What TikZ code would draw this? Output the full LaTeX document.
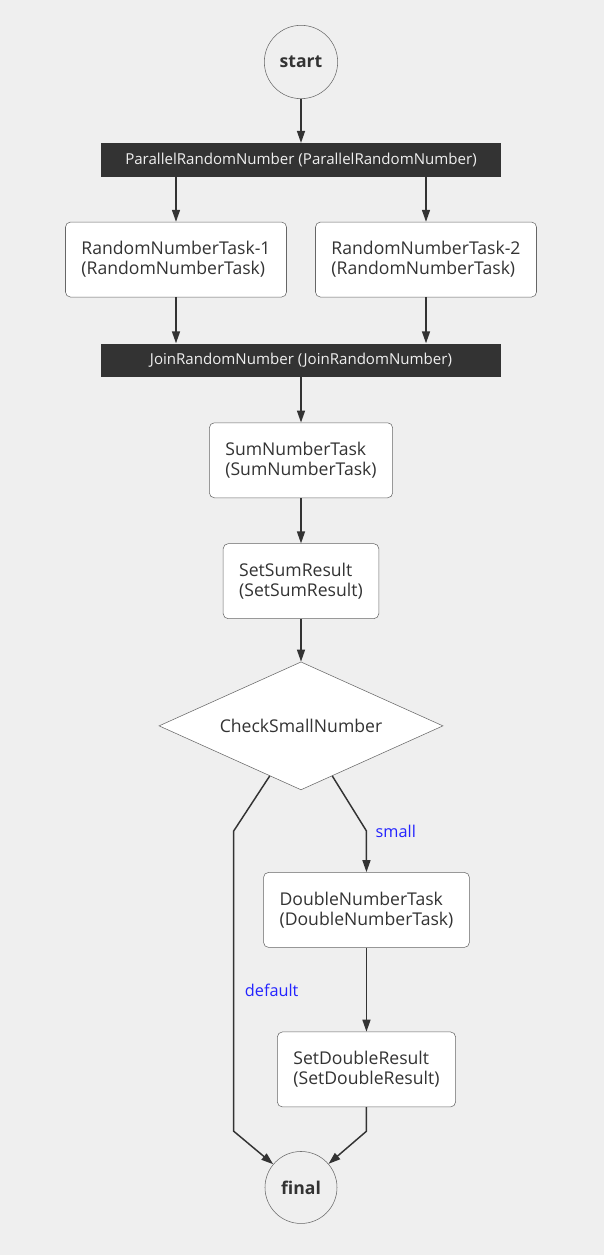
\documentclass[tikz,border=0pt]{standalone}
\usepackage{fontspec}
\setmainfont{Open Sans}
\usepackage{tikz}
\usetikzlibrary{positioning, arrows.meta, shapes.geometric, calc}
\definecolor{wfbg}{HTML}{EFEFEF}
\definecolor{wfdark}{HTML}{333333}
\definecolor{wfedge}{HTML}{666666}
\definecolor{wflbl}{HTML}{2323FF}

\begin{document}
\begin{tikzpicture}[
  font=\fontsize{13.2}{15}\selectfont,
  state/.style={draw=wfedge, circle, minimum size=55pt, inner sep=0pt,
                text=wfdark, font=\fontsize{13.2}{15}\selectfont\bfseries},
  fork/.style={fill=wfdark, text=wfbg, minimum width=300pt, minimum height=25pt,
               inner sep=0pt, font=\fontsize{11.3}{13}\selectfont},
  task/.style={draw=wfedge, fill=white, rounded corners=3.75pt, align=left,
               minimum height=56.25pt, inner xsep=12pt, text=wfdark},
  check/.style={draw=wfedge, fill=white, diamond, aspect=2.2, minimum width=213pt,
                minimum height=96pt, inner sep=0pt, text=wfdark},
  flow/.style={-{Triangle[length=9pt, width=6pt]}, wfdark, line width=1.1pt},
  lbl/.style={text=wflbl, inner sep=0pt, font=\fontsize{12.2}{14}\selectfont}
]
  % page
  \fill[wfbg] (-225.75pt,46.5pt) rectangle (227.25pt,-894.75pt);

  \node[state] (start) {start};
  \node[fork, below=33pt of start] (par) {ParallelRandomNumber (ParallelRandomNumber)};
  \node[task, below=33.75pt of par, xshift=-93.75pt] (rnd1) {RandomNumberTask-1\\(RandomNumberTask)};
  \node[task, below=33.75pt of par, xshift=93.75pt]  (rnd2) {RandomNumberTask-2\\(RandomNumberTask)};
  \node[fork, below=34.5pt of rnd1, xshift=93.75pt] (join) {JoinRandomNumber (JoinRandomNumber)};
  \node[task, below=34pt of join]   (sum)    {SumNumberTask\\(SumNumberTask)};
  \node[task, below=34pt of sum]    (setsum) {SetSumResult\\(SetSumResult)};
  \node[check, below=32pt of setsum] (chk)  {CheckSmallNumber};
  \node[task, below=61.5pt of chk, xshift=49.1pt] (dbl) {DoubleNumberTask\\(DoubleNumberTask)};
  \node[task, below=63pt of dbl]   (setdbl) {SetDoubleResult\\(SetDoubleResult)};
  \node[state, below=33pt of setdbl, xshift=-49.1pt, minimum size=54pt] (fin) {final};

  \draw[flow] (start) -- (par);
  \draw[flow] (par.south -| rnd1) -- (rnd1);
  \draw[flow] (par.south -| rnd2) -- (rnd2);
  \draw[flow] (rnd1) -- (join.north -| rnd1);
  \draw[flow] (rnd2) -- (join.north -| rnd2);
  \draw[flow] (join) -- (sum);
  \draw[flow] (sum) -- (setsum);
  \draw[flow] (setsum) -- (chk);

  % choice branches
  \coordinate (outL) at ($(chk.south)!0.22!(chk.west)$);
  \coordinate (outR) at ($(chk.south)!0.22!(chk.east)$);
  \coordinate (bendL) at ($(outL)+(-27pt,-41.25pt)$);
  \coordinate (bendR) at (bendL -| dbl.north);
  \coordinate (dropR) at ($(setdbl.south)+(0,-18pt)$);
  \coordinate (dropL) at (bendL |- dropR);

  % small
  \draw[flow] (outR) -- (bendR) -- (dbl);
  \draw[flow] (dbl) -- (setdbl);
  \draw[flow] (setdbl) -- (dropR) -- (fin);
  % default
  \draw[flow] (outL) -- (bendL) -- (dropL) -- (fin);

  \node[lbl, right=6.75pt of bendR] (lsmall) {small};
  \node[lbl, anchor=west] (ldefault) at ($(bendL)!0.53!(dropL)+(8.25pt,0)$) {default};
\end{tikzpicture}
\end{document}
